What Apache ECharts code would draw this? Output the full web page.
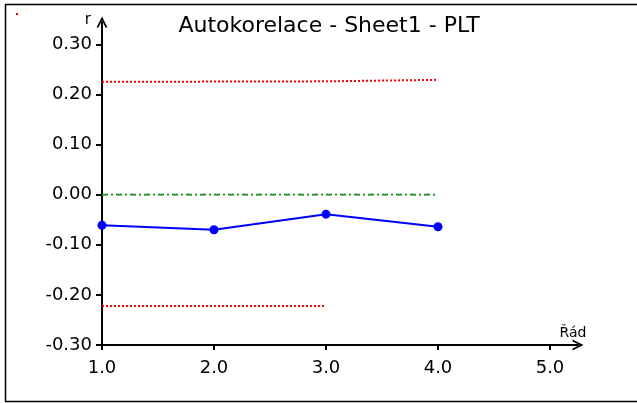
<!DOCTYPE html>
<html>
<head>
<meta charset="utf-8">
<script src="https://cdn.jsdelivr.net/npm/echarts@6/dist/echarts.min.js"></script>
<style>
	html, body { margin: 0; padding: 0; background: #fff; }
	#chart { width: 637px; height: 403px; }
</style>
</head>
<body>
<div id="chart"></div>
<script>
	// lags (Řád)
	var lags = [1, 2, 3, 4];
	var acf = [-0.061, -0.070, -0.039, -0.064];
	var upperBound = [0.225, 0.2255, 0.226, 0.229];
	var lowerLags = [1, 2, 3];
	var lowerBound = [-0.222, -0.222, -0.222];
	var zeroLine = [0, 0, 0, 0];
	var xTicks = [1, 2, 3, 4, 5];
	var yTicks = [-0.3, -0.2, -0.1, 0, 0.1, 0.2, 0.3];

	function pairs(xs, ys) {
		var out = [];
		for (var i = 0; i < xs.length; i++) out.push([xs[i], ys[i]]);
		return out;
	}

	// open chevron arrow head
	var chevron = 'path://M0,10 L5,0 L10,10 L8.2,10 L5,3.4 L1.8,10 Z';
	var font = 'DejaVu Sans, Arial, sans-serif';

	var chart = echarts.init(document.getElementById('chart'));
	var option = {
		animation: false,
		title: {
			text: 'Autokorelace - Sheet1 - PLT',
			left: 324,
			textAlign: 'center',
			top: 10,
			textStyle: { fontFamily: font, fontSize: 22, fontWeight: 'normal', color: '#000' }
		},
		graphic: [
			{ type: 'rect', shape: { x: 5.5, y: 4.5, width: 640, height: 397 }, style: { fill: 'none', stroke: '#000', lineWidth: 1.5 } },
			{ type: 'rect', shape: { x: 16, y: 13, width: 2, height: 2 }, style: { fill: '#ff0000' } }
		],
		grid: { left: 102, right: 59, top: 22, bottom: 58 },
		xAxis: {
			type: 'value',
			min: 1,
			max: 5.25,
			name: 'Řád',
			nameLocation: 'end',
			nameGap: -5,
			nameTextStyle: { fontFamily: font, fontSize: 14, color: '#000', align: 'center', verticalAlign: 'bottom', padding: [0, 0, 5, 0] },
			splitLine: { show: false },
			axisLine: { onZero: false, lineStyle: { color: '#000', width: 2 }, symbol: ['none', chevron], symbolSize: [12, 11] },
			axisTick: { customValues: xTicks, length: 5, lineStyle: { color: '#000', width: 2 } },
			axisLabel: {
				customValues: xTicks,
				margin: 14,
				fontFamily: font, fontSize: 18, color: '#000',
				formatter: function (v) { return v.toFixed(1); }
			}
		},
		yAxis: {
			type: 'value',
			min: -0.3,
			max: 0.3444,
			name: 'r',
			nameLocation: 'end',
			nameGap: -6,
			nameTextStyle: { fontFamily: font, fontSize: 15, color: '#000', align: 'right', padding: [0, 11, 0, 0] },
			splitLine: { show: false },
			axisLine: { onZero: false, lineStyle: { color: '#000', width: 2 }, symbol: ['none', chevron], symbolSize: [12, 11] },
			axisTick: { customValues: yTicks, length: 6, lineStyle: { color: '#000', width: 2 } },
			axisLabel: {
				customValues: yTicks,
				margin: 10,
				fontFamily: font, fontSize: 18, color: '#000',
				formatter: function (v) { return v.toFixed(2); }
			}
		},
		series: [
			{
				type: 'line',
				data: pairs(lags, upperBound),
				symbol: 'none',
				lineStyle: { color: '#ff0000', width: 2, type: [2, 2] },
				z: 2
			},
			{
				type: 'line',
				data: pairs(lowerLags, lowerBound),
				symbol: 'none',
				lineStyle: { color: '#ff0000', width: 2, type: [2, 2] },
				z: 2
			},
			{
				type: 'line',
				data: pairs(lags, zeroLine),
				symbol: 'none',
				lineStyle: { color: '#12881a', width: 1.6, type: [6, 3, 2, 3] },
				z: 2
			},
			{
				type: 'line',
				data: pairs(lags, acf),
				symbol: 'circle',
				symbolSize: 9,
				itemStyle: { color: '#0000ff' },
				lineStyle: { color: '#0000ff', width: 2 },
				z: 3
			}
		]
	};
	chart.setOption(option);
</script>
</body>
</html>
